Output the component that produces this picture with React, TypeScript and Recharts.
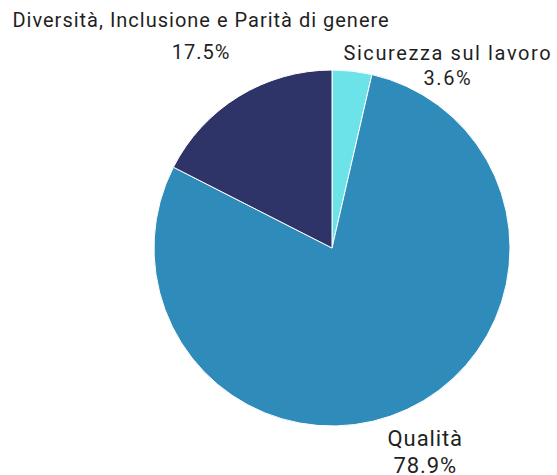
import { PieChart, Pie, Cell } from 'recharts';

// slice data, clockwise from 12 o'clock
const names = ['Sicurezza sul lavoro', 'Qualità', 'Diversità, Inclusione e Parità di genere'];
const values = [3.6, 78.9, 17.5];
const colors = ['#6ce3e8', '#2e8bba', '#2f3468'];

// label placement tweaks: extra radius, angle shift (deg), line gap, letter spacing, size
const labelExtra = [32, 53, 65];
const labelShift = [-27, -1.2, 1.1];
const labelGap = [25, 27, 32];
const labelSpacing = [1.6, 0.9, 1.0];
const labelSize = [20, 22, 20];

const data = names.map((name, i) => ({ name, value: values[i] }));
const RAD = Math.PI / 180;

const renderLabel = (props: any) => {
  const { cx, cy, midAngle, outerRadius, index, name, value } = props;
  const r = outerRadius + labelExtra[index];
  const a = (midAngle + labelShift[index]) * RAD;
  const x = cx + r * Math.cos(a);
  const y = cy - r * Math.sin(a);
  const half = labelGap[index] / 2;
  return (
    <g>
      <text x={x} y={y - half} textAnchor="middle" fill="#1f1f1f" fontSize={labelSize[index]}
        letterSpacing={labelSpacing[index]}>
        {name}
      </text>
      <text x={x} y={y + half} textAnchor="middle" fill="#1f1f1f" fontSize={labelSize[index]}
        letterSpacing={labelSpacing[index]}>
        {value.toFixed(1)}%
      </text>
    </g>
  );
};

export default function App() {
  return (
    <div style={{ position: 'absolute', left: 0, top: 0, fontFamily: 'Roboto, sans-serif' }}>
      <PieChart width={557} height={475} margin={{ top: 0, right: 0, bottom: 0, left: 0 }}>
        <Pie
          data={data}
          dataKey="value"
          nameKey="name"
          cx={332}
          cy={248}
          outerRadius={178}
          startAngle={90}
          endAngle={-270}
          stroke="#ffffff"
          strokeWidth={1}
          labelLine={false}
          label={renderLabel}
          isAnimationActive={false}
        >
          {data.map((d, i) => (
            <Cell key={d.name} fill={colors[i]} />
          ))}
        </Pie>
      </PieChart>
    </div>
  );
}
